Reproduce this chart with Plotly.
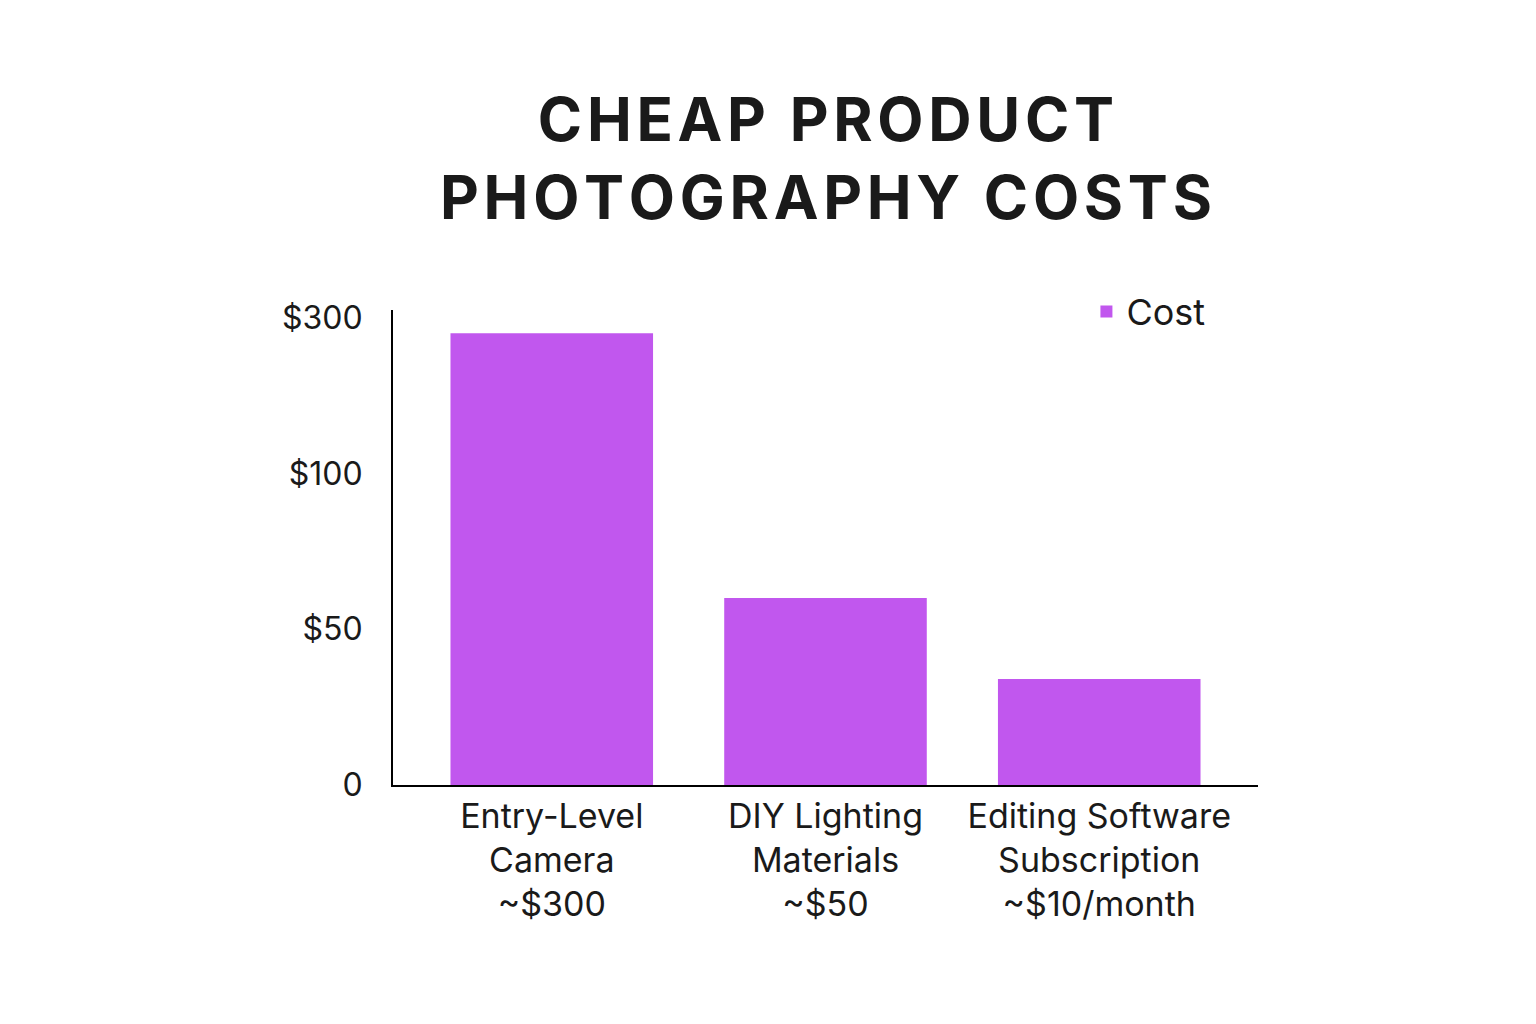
import plotly.graph_objects as go

# Categories and bar heights (axis uses evenly spaced tick steps)
categories = ["Entry-Level<br>Camera<br>~$300", "DIY Lighting<br>Materials<br>~$50",
              "Editing Software<br>Subscription<br>~$10/month"]
bar_levels = [2.9, 1.2, 0.68]
tick_levels = [0, 1, 2, 3]
tick_labels = ["0", "$50", "$100", "$300"]

title_lines = ["CHEAP PRODUCT", "PHOTOGRAPHY COSTS"]
spaced = "<br>".join("\u200a".join(line) for line in title_lines)

fig = go.Figure()
fig.add_trace(go.Bar(
    x=[0, 1, 2], y=bar_levels, name="Cost",
    marker=dict(color="#C157EE", line=dict(width=0)),
    width=0.74,
))

fig.add_annotation(
    text="<b>" + spaced + "</b>", xref="paper", yref="paper",
    x=0.5, y=1.0, xanchor="center", yanchor="bottom", yshift=75, showarrow=False,
    font=dict(size=60, color="#1a1a1a", family="Inter, Noto Sans, sans-serif"),
)

fig.update_layout(
    width=1536, height=1024,
    paper_bgcolor="white", plot_bgcolor="white",
    font=dict(family="Inter, Noto Sans, sans-serif", color="#1a1a1a", size=32),
    margin=dict(l=385, r=286, t=302, b=247),
    showlegend=True,
    legend=dict(x=0.945, xanchor="right", y=1.06, yanchor="top",
                font=dict(size=36), bgcolor="rgba(0,0,0,0)"),
    xaxis=dict(
        tickmode="array", tickvals=[0, 1, 2], ticktext=categories,
        range=[-0.58, 2.58], showgrid=False, showline=True,
        linecolor="black", linewidth=2, ticks="", tickfont=dict(size=34),
    ),
    yaxis=dict(
        tickmode="array", tickvals=tick_levels, ticktext=tick_labels,
        range=[0, 3.05], showgrid=False, showline=True, zeroline=False,
        linecolor="black", linewidth=2, ticks="", ticklabelstandoff=22,
        tickfont=dict(size=32),
    ),
)

fig.write_html("out.html")
